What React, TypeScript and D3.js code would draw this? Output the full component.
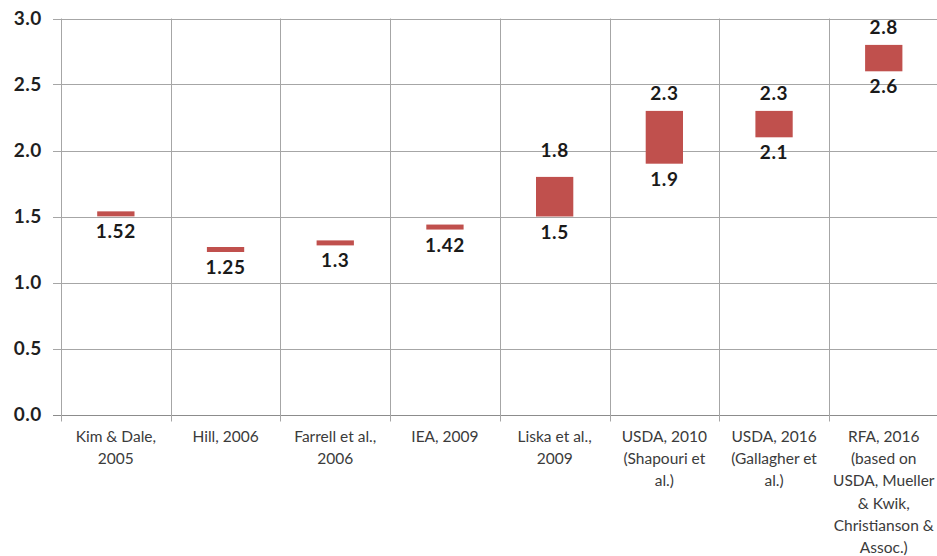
import React from "react";
import * as d3 from "d3";

const categories: string[] = [
  "Kim & Dale,\n2005",
  "Hill, 2006",
  "Farrell et al.,\n2006",
  "IEA, 2009",
  "Liska et al.,\n2009",
  "USDA, 2010\n(Shapouri et\nal.)",
  "USDA, 2016\n(Gallagher et\nal.)",
  "RFA, 2016\n(based on\nUSDA, Mueller\n& Kwik,\nChristianson &\nAssoc.)",
];
const lowValues: number[] = [1.52, 1.25, 1.3, 1.42, 1.5, 1.9, 2.1, 2.6];
const highValues: number[] = [1.52, 1.25, 1.3, 1.42, 1.8, 2.3, 2.3, 2.8];
const lowLabels: string[] = ["1.52", "1.25", "1.3", "1.42", "1.5", "1.9", "2.1", "2.6"];
const highLabels: string[] = ["", "", "", "", "1.8", "2.3", "2.3", "2.8"];
const yTicks: number[] = [0, 0.5, 1, 1.5, 2, 2.5, 3];

const W = 937;
const H = 556;
const FONT = "Lato, 'Open Sans', sans-serif";

export default function App() {
  const x = d3.scaleBand<string>().domain(categories).range([61, 938.6]).padding(0);
  const y = d3.scaleLinear().domain([0, 3]).range([414.5, 18.5]);
  const bw = x.bandwidth() * 0.34;
  const grid = "#a6a6a6";
  const red = "#c0504d";
  const pointH = 5;

  return (
    <svg
      width={W}
      height={H}
      style={{ position: "absolute", left: 0, top: 0, background: "#fff" }}
      fontFamily={FONT}
    >
      {yTicks.map((t) => (
        <line
          key={"h" + t}
          x1={53}
          x2={W}
          y1={Math.round(y(t)) + 0.5}
          y2={Math.round(y(t)) + 0.5}
          stroke={t === 0 ? "#8c8c8c" : grid}
          strokeWidth={1}
        />
      ))}
      {categories.map((c) => (
        <line
          key={"v" + c}
          x1={Math.round(x(c)!) + 0.5}
          x2={Math.round(x(c)!) + 0.5}
          y1={y(3)}
          y2={y(0) + 7}
          stroke={grid}
          strokeWidth={1}
        />
      ))}
      {yTicks.map((t) => (
        <text
          key={"yl" + t}
          x={42}
          y={y(t) + 6.8}
          textAnchor="end"
          fontSize={19}
          fontWeight="bold"
          letterSpacing={0.6}
          fill="#1f1f1f"
        >
          {d3.format(".1f")(t)}
        </text>
      ))}
      {categories.map((c, i) => {
        const cx = x(c)! + x.bandwidth() / 2;
        const lo = lowValues[i];
        const hi = highValues[i];
        const isPoint = lo === hi;
        const top = isPoint ? y(hi) - pointH / 2 : y(hi);
        const bottom = isPoint ? y(lo) + pointH / 2 : y(lo);
        return (
          <g key={"b" + c}>
            <rect x={cx - bw / 2} y={top} width={bw} height={bottom - top} fill={red} />
            {highLabels[i] && (
              <text
                x={cx}
                y={top - (i === 4 ? 20 : 10.5)}
                textAnchor="middle"
                fontSize={19}
                fontWeight="bold"
                letterSpacing={0.6}
                fill="#1a1a1a"
              >
                {highLabels[i]}
              </text>
            )}
            <text
              x={cx}
              y={bottom + 22}
              textAnchor="middle"
              fontSize={19}
              fontWeight="bold"
              letterSpacing={0.6}
              fill="#1a1a1a"
            >
              {lowLabels[i]}
            </text>
          </g>
        );
      })}
      {categories.map((c) => {
        const cx = x(c)! + x.bandwidth() / 2;
        const lines = c.split("\n");
        return (
          <text key={"xl" + c} textAnchor="middle" fontSize={15.5} fill="#3b3b3b">
            {lines.map((ln, j) => (
              <tspan key={j} x={cx} y={442 + j * 22.2}>
                {ln}
              </tspan>
            ))}
          </text>
        );
      })}
    </svg>
  );
}
